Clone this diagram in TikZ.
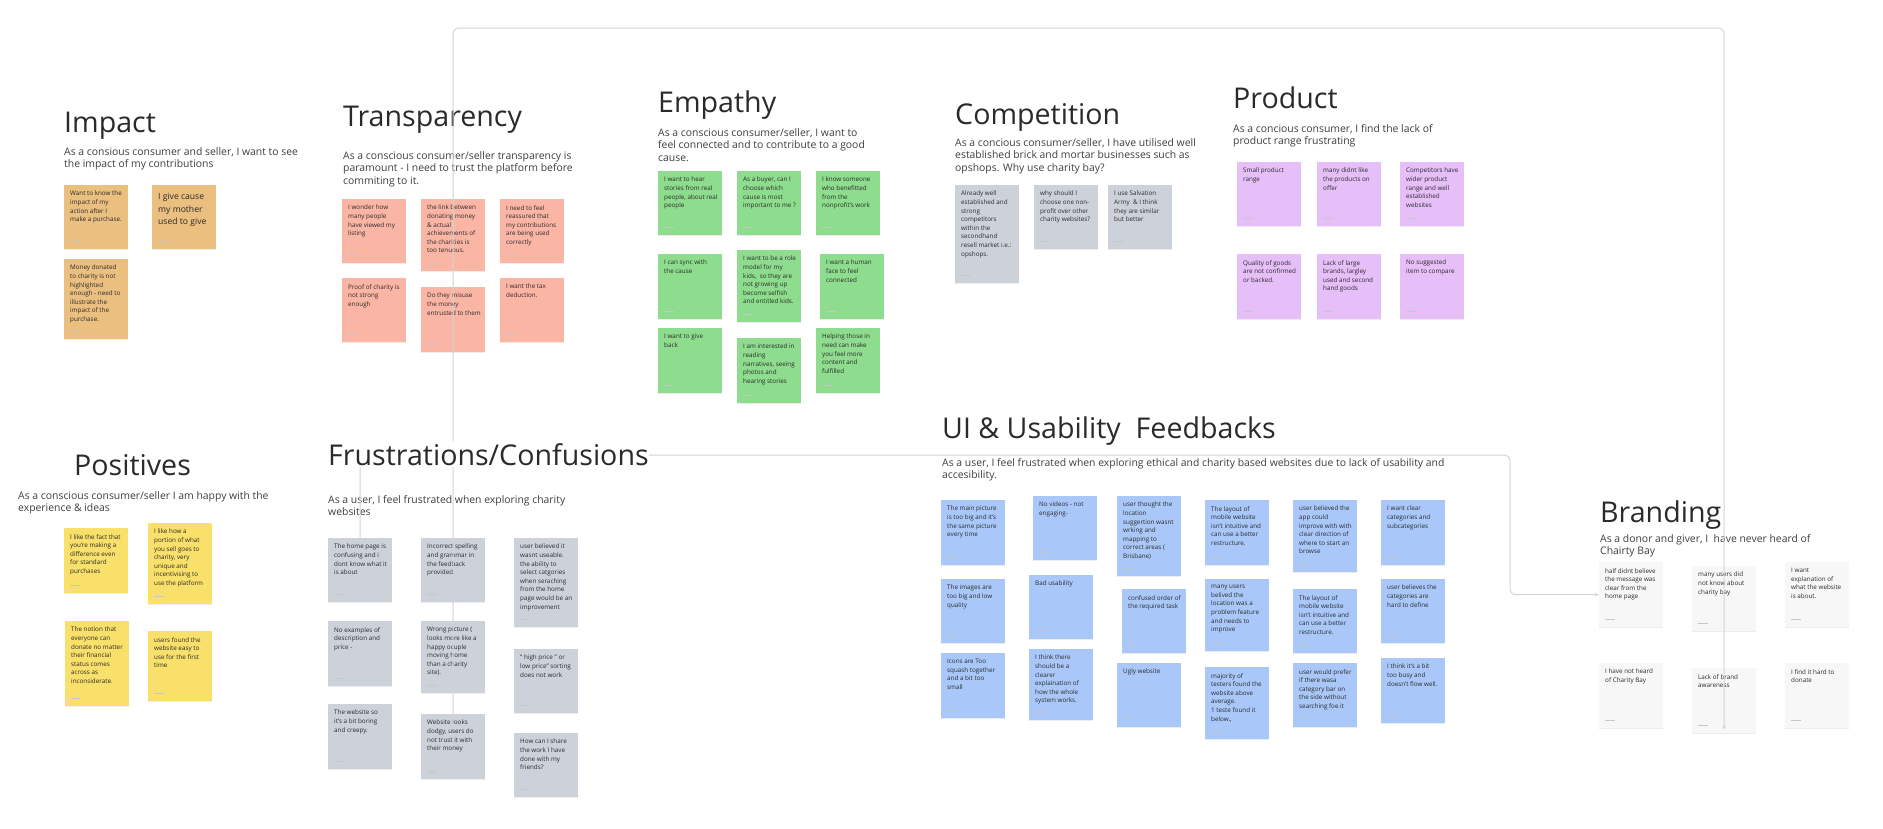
\documentclass[tikz,border=0pt]{standalone}
\usepackage{fontspec}
\setmainfont{Open Sans}
\usetikzlibrary{arrows.meta,shadows}

\definecolor{impactc}{HTML}{EABF80}
\definecolor{transc}{HTML}{FBB5A5}
\definecolor{empc}{HTML}{8EDC8E}
\definecolor{compc}{HTML}{CDD2DA}
\definecolor{prodc}{HTML}{E6BEF8}
\definecolor{posc}{HTML}{F9E06A}
\definecolor{uic}{HTML}{A9C8F9}
\definecolor{brandc}{HTML}{F7F7F7}
\definecolor{inkc}{HTML}{2A2A2A}
\definecolor{linkc}{HTML}{D4D4D4}

\begin{document}
\begin{tikzpicture}[x=1pt, y=-1pt,
  title/.style={anchor=base west, inner sep=0pt, font=\fontsize{28.6}{32}\selectfont, text=inkc},
  brief/.style={anchor=base west, inner sep=0pt, font=\fontsize{10.4}{12.5}\selectfont, text=inkc!90, align=left},
  sticky/.style={anchor=north west, draw=none, inner sep=0pt, minimum width=64pt,
    drop shadow={shadow xshift=0pt, shadow yshift=-1pt, opacity=0.15},
    path picture={\draw[black!22, line width=1.2pt] ([xshift=6pt, yshift=8pt]path picture bounding box.south west) -- ++(10pt,0);}},
  memo/.style={anchor=north west, inner xsep=6pt, inner ysep=6pt, font=\fontsize{6.3}{8.6}\selectfont, text=inkc, align=left},
  link/.style={draw=linkc, line width=1pt, rounded corners=6pt},
  arr/.style={-{Stealth[length=4pt, width=3.5pt]}}
]
\fill[white] (0,0) rectangle (1883,828);
\useasboundingbox (0,0) rectangle (1883,828);

% Impact
\node[title] (impact) at (64,132) {Impact};
\node[brief] (impact-s) at (64,167.5) {As a consious consumer and seller, I want to see\\the impact of my contributions};
\foreach \nm/\px/\py/\hh/\txt in {
  im1/64/185/64/{Want to know the\\impact of my\\action after I\\make a purchase.},
  im3/64/259/80/{Money donated\\to charity is not\\highlighted\\enough - need to\\illustrate the\\impact of the\\purchase.}}{
  \node[sticky, fill=impactc, minimum height=\hh] (\nm) at (\px,\py) {};
  \node[memo] (\nm-t) at (\nm.north west) {\txt};
}
\node[sticky, fill=impactc, minimum height=64] (im2) at (152,185) {};
\node[memo, inner ysep=8pt, font=\fontsize{8.6}{12.7}\selectfont] (im2-t) at (im2.north west) {I give cause\\my mother\\used to give};

% Transparency
\node[title] (trans) at (343,126) {Transparency};
\node[brief] (trans-s) at (343,184) {As a conscious consumer/seller transparency is\\paramount - I need to trust the platform before\\commiting to it.};
\foreach \nm/\px/\py/\hh/\txt in {
  tr1/342/199/64/{I wonder how\\many people\\have viewed my\\listing},
  tr2/421/199/72/{the link between\\donating money\\\& actual\\achievements of\\the charities is\\too tenuous.},
  tr3/500/199/64/{I need to feel\\reassured that\\my contributions\\are being used\\correctly},
  tr4/342/278/64/{Proof of charity is\\not strong\\enough},
  tr5/421/287/65/{Do they misuse\\the money\\entrusted to them},
  tr6/500/278/64/{I want the tax\\deduction.}}{
  \node[sticky, fill=transc, minimum height=\hh] (\nm) at (\px,\py) {};
  \node[memo] (\nm-t) at (\nm.north west) {\txt};
}

% Empathy
\node[title] (emp) at (658,112) {Empathy};
\node[brief] (emp-s) at (658,161) {As a conscious consumer/seller, I want to\\feel connected and to contribute to a good\\cause.};
\foreach \nm/\px/\py/\hh/\txt in {
  em1/658/171/64/{I want to hear\\stories from real\\people, about real\\people},
  em2/737/171/64/{As a buyer, can I\\choose which\\cause is most\\important to me ?},
  em3/816/171/64/{I know someone\\who benefitted\\from the\\nonprofit's work},
  em4/658/254/65/{I can sync with\\the cause},
  em5/737/250/72/{I want to be a role\\model for my\\kids,~ so they are\\not growing up\\become selfish\\and entitled kids.},
  em6/820/254/65/{I want a human\\face to feel\\connected},
  em7/658/328/65/{I want to give\\back},
  em8/737/338/65/{I am interested in\\reading\\narratives, seeing\\photos and\\hearing stories},
  em9/816/328/65/{Helping those in\\need can make\\you feel more\\content and\\fulfilled}}{
  \node[sticky, fill=empc, minimum height=\hh] (\nm) at (\px,\py) {};
  \node[memo] (\nm-t) at (\nm.north west) {\txt};
}

% Competition
\node[title] (comp) at (955,124) {Competition};
\node[brief] (comp-s) at (955,171) {As a concious consumer/seller, I have utilised well\\established brick and mortar businesses such as\\opshops. Why use charity bay?};
\foreach \nm/\px/\py/\hh/\txt in {
  co1/955/185/98/{Already well\\established and\\strong\\competitors\\within the\\secondhand\\resell market i.e.:\\opshops.},
  co2/1034/185/64/{why should I\\choose one non-\\profit over other\\charity websites?},
  co3/1108/185/64/{I use Salvation\\Army~ \& I think\\they are similar\\but better}}{
  \node[sticky, fill=compc, minimum height=\hh] (\nm) at (\px,\py) {};
  \node[memo] (\nm-t) at (\nm.north west) {\txt};
}

% Product
\node[title] (prod) at (1233,108) {Product};
\node[brief] (prod-s) at (1233,144.5) {As a concious consumer, I find the lack of\\product range frustrating};
\foreach \nm/\px/\py/\hh/\txt in {
  pr1/1237/162/64/{Small product\\range},
  pr2/1317/162/64/{many didnt like\\the products on\\offer},
  pr3/1400/162/64/{Competitors have\\wider product\\range and well\\established\\websites},
  pr4/1237/254/65/{Quality of goods\\are not confirmed\\or backed.},
  pr5/1317/254/65/{Lack of large\\brands, largley\\used and second\\hand goods},
  pr6/1400/254/65/{No suggested\\item to compare}}{
  \node[sticky, fill=prodc, minimum height=\hh] (\nm) at (\px,\py) {};
  \node[memo] (\nm-t) at (\nm.north west) {\txt};
}

% Positives
\node[title] (pos) at (74,475) {Positives};
\node[brief] (pos-s) at (18,511.5) {As a conscious consumer/seller I am happy with the\\experience \& ideas};
\foreach \nm/\px/\py/\hh/\txt in {
  po1/64/528/65/{I like the fact that\\you're making a\\difference even\\for standard\\purchases},
  po2/148/523/81/{I like how a\\portion of what\\you sell goes to\\charity, very\\unique and\\incentivising to\\use the platform},
  po3/65/621/85/{The notion that\\everyone can\\donate no matter\\their financial\\status comes\\across as\\inconsiderate.},
  po4/148/631/70/{users found the\\website easy to\\use for the first\\time}}{
  \node[sticky, fill=posc, minimum height=\hh] (\nm) at (\px,\py) {};
  \node[memo] (\nm-t) at (\nm.north west) {\txt};
}

% Frustrations
\node[brief] (frus-s) at (328,515.5) {As a user, I feel frustrated when exploring charity\\websites};
\foreach \nm/\px/\py/\hh/\txt in {
  fr1/328/538/64/{The home page is\\confusing and i\\dont know what it\\is about},
  fr2/328/621/65/{No examples of\\description and\\price -},
  fr3/328/704/65/{The website so\\it's a bit boring\\and creepy.},
  fr4/421/538/64/{Incorrect spelling\\and grammar in\\the feedback\\provided.},
  fr5/421/621/72/{Wrong picture (\\looks more like a\\happy ocuple\\moving home\\than a charity\\site).},
  fr6/421/714/65/{Website looks\\dodgy, users do\\not trust it with\\their money},
  fr7/514/538/89/{user believed it\\wasnt useable.\\the ability to\\select catgories\\when seraching\\from the home\\page would be an\\improvement},
  fr8/514/649/64/{“ high price ” or\\low price” sorting\\does not work},
  fr9/514/733/64/{How can I share\\the work I have\\done with my\\friends?}}{
  \node[sticky, fill=compc, minimum height=\hh] (\nm) at (\px,\py) {};
  \node[memo] (\nm-t) at (\nm.north west) {\txt};
}

% UI & Usability
\node[title] (ui) at (942,438) {UI \& Usability~ Feedbacks};
\node[brief] (ui-s) at (942,478.5) {As a user, I feel frustrated when exploring ethical and charity based websites due to lack of usability and\\accesibility.};
\foreach \nm/\px/\py/\hh/\txt in {
  ui1/941/500/65/{The main picture\\is too big and it's\\the same picture\\every time},
  ui2/941/579/64/{The images are\\too big and low\\quality},
  ui3/941/653/65/{Icons are Too\\squash together\\and a bit too\\small},
  ui4/1033/496/64/{No videos - not\\engaging-},
  ui5/1029/575/64/{Bad usability},
  ui6/1029/649/71/{I think there\\should be a\\clearer\\explaination of\\how the whole\\system works.},
  ui7/1117/496/80/{user thought the\\location\\suggertion wasnt\\wrking and\\mapping to\\correct areas (\\Brisbane)},
  ui8/1122/589/64/{confused order of\\the required task},
  ui9/1117/663/64/{Ugly website},
  ui10/1205/500/65/{The layout of\\mobile website\\isn't intuitive and\\can use a better\\restructure.},
  ui11/1205/579/72/{many users\\belived the\\location was a\\problem feature\\and needs to\\improve},
  ui12/1205/667/72/{majority of\\testers found the\\website above\\average.\\1 teste found it\\below.,},
  ui13/1293/500/72/{user believed the\\app could\\improve with with\\clear direction of\\where to start an\\browse},
  ui14/1293/589/64/{The layout of\\mobile website\\isn't intuitive and\\can use a better\\restructure.},
  ui15/1293/663/64/{user would prefer\\if there wasa\\category bar on\\the side without\\searching foe it},
  ui16/1381/500/65/{I want clear\\categories and\\subcategories},
  ui17/1381/579/64/{user believes the\\categories are\\hard to define},
  ui18/1381/658/65/{I think it's a bit\\too busy and\\doesn't flow well.}}{
  \node[sticky, fill=uic, minimum height=\hh] (\nm) at (\px,\py) {};
  \node[memo] (\nm-t) at (\nm.north west) {\txt};
}

% Branding
\node[title] (brand) at (1600,522) {Branding};
\node[brief] (brand-s) at (1600,554.5) {As a donor and giver, I~ have never heard of\\Chairty Bay};
\foreach \nm/\px/\py/\hh/\txt in {
  br1/1599/562/65/{half didnt believe\\the message was\\clear from the\\home page},
  br2/1692/566/65/{many users did\\not know about\\charity bay},
  br3/1785/562/65/{I want\\explanation of\\what the website\\is about.},
  br4/1599/663/65/{I have not heard\\of Charity Bay},
  br5/1692/668/65/{Lack of brand\\awareness},
  br6/1785/663/65/{I find it hard to\\donate}}{
  \node[sticky, fill=brandc, minimum height=\hh] (\nm) at (\px,\py) {};
  \node[memo] (\nm-t) at (\nm.north west) {\txt};
}

% connectors
\coordinate (topline) at (0,28);
\coordinate (midline) at (1510,455);
\draw[link, arr] ([yshift=-10pt]fr6.north) -- (fr6.north |- topline) -- (br5.north |- topline) -- ([yshift=4pt]br5.south);
\draw[link, arr] (fr1.north) -- (fr1.north |- midline) -- (midline) -- (midline |- br1.west) -- (br1.west);

% title on top of the connector
\node[title, fill=white, inner ysep=2pt] (frus) at (328,465) {Frustrations/Confusions};
\end{tikzpicture}
\end{document}
